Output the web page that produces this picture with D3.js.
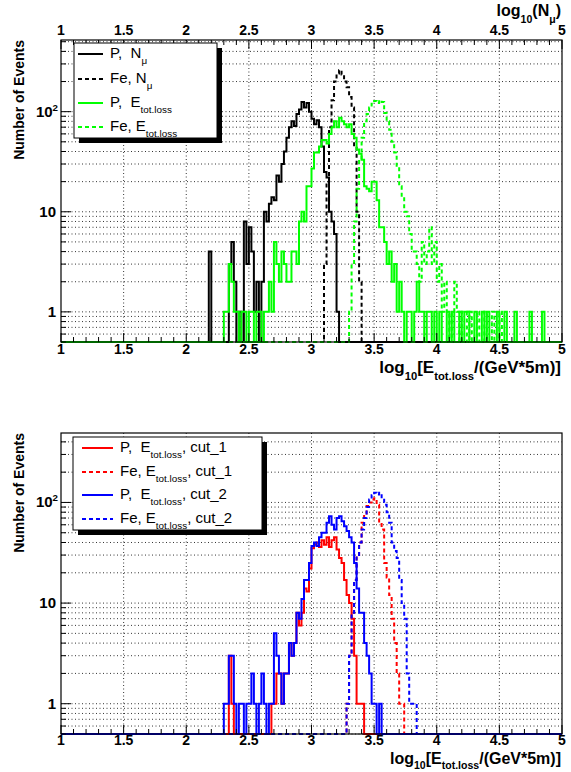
<!DOCTYPE html>
<html><head><meta charset="utf-8">
<script src="https://cdn.jsdelivr.net/npm/d3@7"></script>
<style>body{margin:0;background:#fff}svg{display:block}text{white-space:pre}</style>
</head><body>
<svg id="c" width="571" height="772"></svg>
<script>
// ---------- data (bin width 0.02, values start at given lower edge) ----------
const binWidth = 0.02;
const xTickLabels = ["1","1.5","2","2.5","3","3.5","4","4.5","5"];
const xTickValues = [1,1.5,2,2.5,3,3.5,4,4.5,5];

// top panel
const pNmuStart = 2.18;
const pNmuCounts = [4,0,0,0,0,0,0,0,3,5,2,0,1,0,8,3,7,4,1,2,0,2,10,8,12,14,13,23,20,30,40,55,70,80,72,95,105,125,110,122,100,85,75,82,70,45,25,22,10,8,6,1];
const feNmuStart = 3.10;
const feNmuCounts = [3,20,70,130,200,240,260,235,200,175,140,110,45,10,2];
const pElossStart = 2.30;
const pElossCounts = [1,1,3,2,1,1,0,1,1,0,1,1,0,1,1,0,1,1,2,1,5,3,2,4,3,2,2,4,4,3,8,10,8,18,18,27,39,39,45,52,52,48,60,70,80,70,87,80,75,70,75,60,55,42,38,33,18,17,16,20,20,13,7,7,5,3,4,2,3,1,2,1,0,1,1,0,1,2,1,1,0,1,1,0,1,0,1,0,0,1,0,1,0,0,1,0,1,1,0,0,1,0,0,1,0,1,0,0,0,1,0,0,1,0,0,0,1,0,0,0,0,0,1,0,0,0,0,1,0];
const feElossStart = 3.30;
const feElossCounts = [1,3,8,17,33,55,80,95,110,120,128,122,130,125,97,80,66,50,39,28,18,14,10,9,6,4,4,3,2,5,3,4,7,3,5,2,3,1,2,1,0,1,2,1,0,1,1,0,1,0,0,1,0,0,1,0,0,1,0,0,1];

// bottom panel
const pCut1Start = 2.30;
const pCut1Counts = [0,0,3,1,0,0,0,0,0,0,0,0,0,0,0,0,0,0,0,1,1,2,2,1,2,2,4,3,4,8,6,8,14,13,22,35,38,40,36,42,38,45,36,42,45,34,28,25,17,12,10,7,3,1,1,1];
const feCut1Start = 3.28;
const feCut1Counts = [1,3,8,17,30,40,63,75,92,100,107,110,95,63,54,25,18,12,7,4,2,1,1];
const pCut2Start = 2.30;
const pCut2Counts = [1,1,3,3,1,0,1,1,0,1,1,2,1,0,1,2,1,0,1,1,5,3,2,1,2,2,4,3,4,8,7,11,17,17,25,37,40,37,45,50,50,63,73,60,54,70,73,65,58,52,45,40,25,14,8,8,4,3,2,1,1,0,1];
const feCut2Start = 3.28;
const feCut2Counts = [1,3,8,17,30,40,54,70,90,107,118,125,120,125,110,95,80,63,40,33,28,17,10,7,2,1,1,1];

const xDomain = [1,5];
const topYDomain = [0.5,520];
const botYDomain = [0.5,490];

// ---------- drawing ----------
const svg = d3.select("#c");
const FONT = "'Liberation Sans', Arial, Helvetica, sans-serif";
const L = 61, R = 562;

function rich(g, x, y, parts, opts){
  const t = g.append("text").attr("x",x).attr("y",y)
    .attr("font-family",FONT).attr("font-size",opts.size)
    .attr("font-weight",opts.bold?"bold":"normal")
    .attr("text-anchor",opts.anchor||"start").attr("fill","#000")
    .attr("xml:space","preserve");
  if(opts.rotate) t.attr("transform",`rotate(${opts.rotate},${x},${y})`);
  const subDrop = opts.subDrop !== undefined ? opts.subDrop : 0.42;
  let shift = 0;
  parts.forEach(p=>{
    const s = t.append("tspan").text(p.t);
    let target = 0, size = opts.size;
    if(p.sub){ target = opts.size*subDrop; size = opts.size*0.66; }
    if(p.sup){ target = -opts.size*0.4; size = opts.size*0.65; }
    s.attr("font-size",size).attr("dy",target-shift);
    shift = target;
  });
  return t;
}

function fullBins(start, counts){
  const n = Math.round((xDomain[1]-xDomain[0])/binWidth);
  const arr = new Array(n).fill(0);
  const s = Math.round((start-xDomain[0])/binWidth);
  counts.forEach((c,i)=>{ if(s+i<n) arr[s+i]=c; });
  return arr;
}

function panel(top, bottom, yDomain, series, legend, clipId, showTopAxis, tOpt){
  const x = d3.scaleLinear().domain(xDomain).range([L,R]);
  const y = d3.scaleLog().domain(yDomain).range([bottom,top]);
  const g = svg.append("g");

  // grid
  const grid = g.append("g").attr("stroke","#000").attr("stroke-width",0.8)
    .attr("stroke-dasharray","1,2.5");
  xTickValues.slice(1,-1).forEach(v=>{
    grid.append("line").attr("x1",x(v)).attr("x2",x(v)).attr("y1",top).attr("y2",bottom);
  });
  const yMinor = [];
  [0.1,1,10,100].forEach(d=>{ for(let k=1;k<=9;k++){ const v=k*d; if(v>=yDomain[0]&&v<=yDomain[1]) yMinor.push(v);} });
  yMinor.forEach(v=>{
    grid.append("line").attr("x1",L).attr("x2",R).attr("y1",y(v)).attr("y2",y(v));
  });

  // histograms
  g.append("clipPath").attr("id",clipId).append("rect")
    .attr("x",L).attr("y",top).attr("width",R-L).attr("height",bottom-top+1.5);
  const hg = g.append("g").attr("clip-path",`url(#${clipId})`);
  series.forEach(s=>{
    const vals = fullBins(s.start, s.counts);
    const yv = v => v>0 ? y(v) : bottom;
    let d = `M${x(xDomain[0])},${bottom}`;
    vals.forEach((v,i)=>{
      const x0 = x(xDomain[0]+i*binWidth), x1 = x(xDomain[0]+(i+1)*binWidth);
      d += `L${x0},${yv(v)}L${x1},${yv(v)}`;
    });
    hg.append("path").attr("d",d).attr("fill","none").attr("stroke",s.color)
      .attr("stroke-width",2).attr("stroke-dasharray",s.dash?"4,3":null)
      .attr("stroke-linejoin","miter");
  });

  // frame
  g.append("rect").attr("x",L).attr("y",top).attr("width",R-L).attr("height",bottom-top)
    .attr("fill","none").attr("stroke","#000").attr("stroke-width",1.2);

  // x ticks (bottom & top), inside
  const ticks = g.append("g").attr("stroke","#000").attr("stroke-width",1);
  for(let i=0;i<=40;i++){
    const v = 1+i*0.1; const len = (i%5===0)?9:5;
    ticks.append("line").attr("x1",x(v)).attr("x2",x(v)).attr("y1",bottom).attr("y2",bottom-len);
    if(showTopAxis) ticks.append("line").attr("x1",x(v)).attr("x2",x(v)).attr("y1",top).attr("y2",top+len);
  }
  // y ticks left, inside
  yMinor.forEach(v=>{
    const major = [1,10,100].includes(v);
    ticks.append("line").attr("x1",L).attr("x2",L+(major?10:5)).attr("y1",y(v)).attr("y2",y(v));
  });

  // x labels
  xTickValues.forEach((v,i)=>{
    g.append("text").attr("x",x(v)).attr("y",bottom+tOpt.labOff).attr("text-anchor","middle")
      .attr("font-family",FONT).attr("font-weight","bold").attr("font-size",14).text(xTickLabels[i]);
    if(showTopAxis)
      g.append("text").attr("x",x(v)).attr("y",top-5).attr("text-anchor","middle")
        .attr("font-family",FONT).attr("font-weight","bold").attr("font-size",14).text(xTickLabels[i]);
  });
  // y labels
  rich(g, 56, y(1)+5, [{t:"1"}], {size:15,bold:true,anchor:"end"});
  rich(g, 56, y(10)+5, [{t:"10"}], {size:15,bold:true,anchor:"end"});
  rich(g, 58, y(100)+5, [{t:"10"},{t:"2",sup:true}], {size:15,bold:true,anchor:"end"});

  // axis titles
  rich(g, 24, top, [{t:"Number of Events"}], {size:14,bold:true,anchor:"end",rotate:-90});
  rich(g, 561, bottom+tOpt.off, [{t:"log"},{t:"10",sub:true},{t:"[E"},{t:"tot.loss",sub:true},{t:"/(GeV*5m)]"}], {size:tOpt.size,bold:true,anchor:"end",subDrop:tOpt.subDrop});

  // legend
  const lg = g.append("g");
  lg.append("rect").attr("x",legend.x+5).attr("y",legend.y+5).attr("width",legend.w).attr("height",legend.h).attr("fill","#000");
  lg.append("rect").attr("x",legend.x).attr("y",legend.y).attr("width",legend.w).attr("height",legend.h)
    .attr("fill","#fff").attr("stroke","#000").attr("stroke-width",1);
  legend.items.forEach((it,i)=>{
    const ly = legend.rows[i];
    lg.append("line").attr("x1",legend.lx0).attr("x2",legend.lx1).attr("y1",ly).attr("y2",ly)
      .attr("stroke",it.color).attr("stroke-width",2).attr("stroke-dasharray",it.dash?"4,3":null);
    rich(lg, legend.tx, ly+4, it.label, {size:15,bold:false});
  });
  return {x,y};
}

// top panel
const topPanel = panel(40, 342, topYDomain, [
  {start:pNmuStart, counts:pNmuCounts, color:"#000", dash:false},
  {start:feNmuStart, counts:feNmuCounts, color:"#000", dash:true},
  {start:pElossStart, counts:pElossCounts, color:"#00ff00", dash:false},
  {start:feElossStart, counts:feElossCounts, color:"#00ff00", dash:true}
], {x:74,y:43,w:143,h:95,lx0:78,lx1:103,tx:110,rows:[54,79,103,127],
  items:[
    {color:"#000",dash:false,label:[{t:"P,  N"},{t:"μ",sub:true}]},
    {color:"#000",dash:true,label:[{t:"Fe, N"},{t:"μ",sub:true}]},
    {color:"#00ff00",dash:false,label:[{t:"P,  E"},{t:"tot.loss",sub:true}]},
    {color:"#00ff00",dash:true,label:[{t:"Fe, E"},{t:"tot.loss",sub:true}]}
  ]}, "clipTop", true, {off:31, size:17, subDrop:0.42, labOff:12});

// top axis title
rich(svg, 561, 16, [{t:"log"},{t:"10",sub:true},{t:"(N"},{t:"μ",sub:true},{t:")"}], {size:16,bold:true,anchor:"end"});

// bottom panel
panel(433, 734, botYDomain, [
  {start:pCut1Start, counts:pCut1Counts, color:"#ff0000", dash:false},
  {start:feCut1Start, counts:feCut1Counts, color:"#ff0000", dash:true},
  {start:pCut2Start, counts:pCut2Counts, color:"#0000ff", dash:false},
  {start:feCut2Start, counts:feCut2Counts, color:"#0000ff", dash:true}
], {x:73,y:437,w:189,h:93,lx0:82,lx1:113,tx:120,rows:[448,472,495,519],
  items:[
    {color:"#ff0000",dash:false,label:[{t:"P,  E"},{t:"tot.loss",sub:true},{t:", cut_1"}]},
    {color:"#ff0000",dash:true,label:[{t:"Fe, E"},{t:"tot.loss",sub:true},{t:", cut_1"}]},
    {color:"#0000ff",dash:false,label:[{t:"P,  E"},{t:"tot.loss",sub:true},{t:", cut_2"}]},
    {color:"#0000ff",dash:true,label:[{t:"Fe, E"},{t:"tot.loss",sub:true},{t:", cut_2"}]}
  ]}, "clipBot", false, {off:30, size:16, subDrop:0.3, labOff:11});
</script>
</body></html>
